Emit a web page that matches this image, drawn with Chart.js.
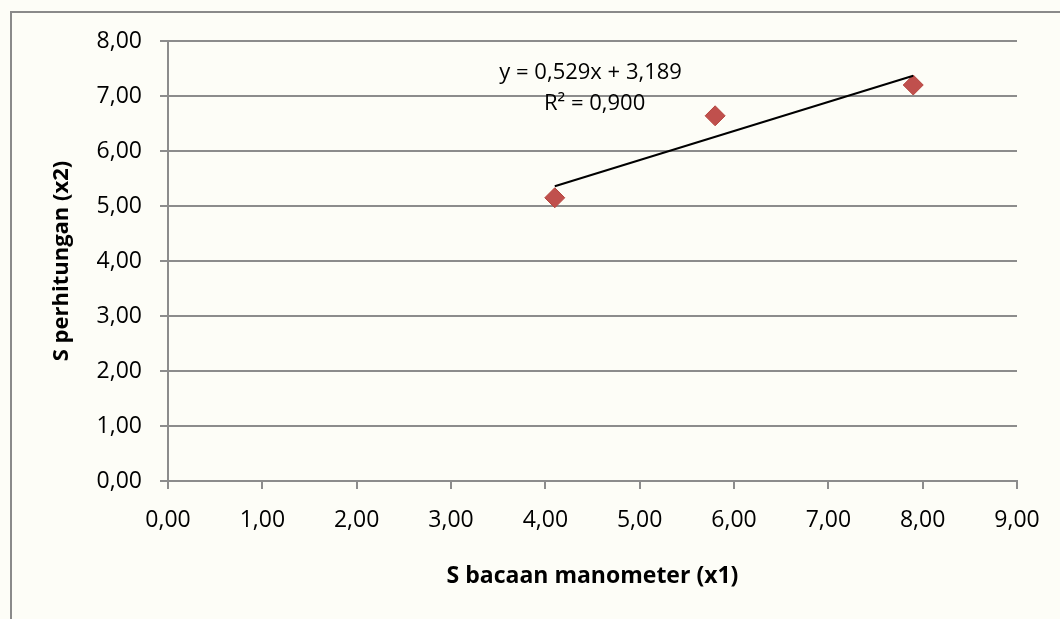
<!DOCTYPE html>
<html>
<head>
<meta charset="utf-8">
<script src="https://cdn.jsdelivr.net/npm/chart.js@4.4.1/dist/chart.umd.min.js"></script>
<style>
  html, body { margin: 0; padding: 0; background: #fdfdf7; overflow: hidden; }
  #wrap { position: relative; width: 1060px; height: 619px; }
  #frame {
    position: absolute; left: 10px; top: 11px; width: 1100px; height: 700px;
    border-top: 2px solid #8a8a8a; border-left: 2px solid #8a8a8a;
    pointer-events: none;
  }
  canvas { position: absolute; left: 0; top: 0; }
</style>
</head>
<body>
<div id="wrap">
  <div id="frame"></div>
  <canvas id="chart" width="1060" height="619"></canvas>
</div>
<script>
// ── Data ────────────────────────────────────────────────────
const xValues = [4.10, 5.80, 7.90];   // S bacaan manometer (x1)
const yValues = [5.15, 6.64, 7.20];   // S perhitungan (x2)

const trendSlope     = 0.529;
const trendIntercept = 3.189;
const trendR2        = 0.900;

const xTicks = [0, 1, 2, 3, 4, 5, 6, 7, 8, 9];
const yTicks = [0, 1, 2, 3, 4, 5, 6, 7, 8];

const fmt = v => v.toFixed(2).replace(".", ",");
const FONT = "'Open Sans', 'DejaVu Sans', sans-serif";
const GRID = "#8c8c8c";

const points = xValues.map((x, i) => ({ x, y: yValues[i] }));
const xMin = Math.min(...xValues), xMax = Math.max(...xValues);
const trend = [xMin, xMax].map(x => ({ x, y: trendSlope * x + trendIntercept }));

// equation label drawn above the trend line
const eqLabel = {
    id: "eqLabel",
    afterDatasetsDraw(chart) {
        const { ctx, scales: { x, y } } = chart;
        ctx.save();
        ctx.fillStyle = "#000";
        ctx.font = "22px " + FONT;
        ctx.textAlign = "center";
        ctx.textBaseline = "middle";
        const cx = x.getPixelForValue(4.48);
        ctx.fillText("y = " + trendSlope.toFixed(3).replace(".", ",") + "x + " +
                     trendIntercept.toFixed(3).replace(".", ","), cx, y.getPixelForValue(7.43));
        ctx.fillText("R² = " + trendR2.toFixed(3).replace(".", ","), cx + 4, y.getPixelForValue(6.86));
        ctx.restore();
    }
};

new Chart(document.getElementById("chart"), {
    type: "scatter",
    data: {
        datasets: [
            {
                label: "Data",
                data: points,
                pointStyle: "rectRot",
                pointRadius: 10,
                pointHoverRadius: 10,
                backgroundColor: "#c0504d",
                borderColor: "#b5463f",
                borderWidth: 1,
                order: 1
            },
            {
                label: "Trend",
                type: "line",
                data: trend,
                borderColor: "#000",
                borderWidth: 2,
                pointRadius: 0,
                fill: false,
                order: 0
            }
        ]
    },
    options: {
        responsive: false,
        animation: false,
        layout: { padding: { left: 45, top: 41, right: 43, bottom: 25 } },
        plugins: { legend: { display: false }, tooltip: { enabled: false } },
        scales: {
            x: {
                type: "linear",
                min: 0, max: 9,
                afterBuildTicks: s => { s.ticks = xTicks.map(v => ({ value: v })); },
                afterFit: s => { s.height = 113; },
                ticks: { font: { family: FONT, size: 23 }, color: "#000", padding: 18, callback: v => fmt(v) },
                grid: { drawOnChartArea: false, drawTicks: true, tickLength: 8, color: GRID, lineWidth: 2 },
                border: { color: GRID, width: 2 },
                title: { display: true, text: "S bacaan manometer (x1)", color: "#000",
                         font: { family: FONT, size: 23, weight: "bold" }, padding: 4 }
            },
            y: {
                type: "linear",
                min: 0, max: 8,
                afterBuildTicks: s => { s.ticks = yTicks.map(v => ({ value: v })); },
                afterFit: s => { s.width = 123; },
                ticks: { font: { family: FONT, size: 23 }, color: "#000", padding: 18, callback: v => fmt(v) },
                grid: { drawOnChartArea: true, drawTicks: true, tickLength: 8, color: GRID, lineWidth: 2 },
                border: { color: GRID, width: 2 },
                title: { display: true, text: "S perhitungan (x2)", color: "#000",
                         font: { family: FONT, size: 22, weight: "bold" }, padding: 4 }
            }
        }
    },
    plugins: [eqLabel]
});
</script>
</body>
</html>
